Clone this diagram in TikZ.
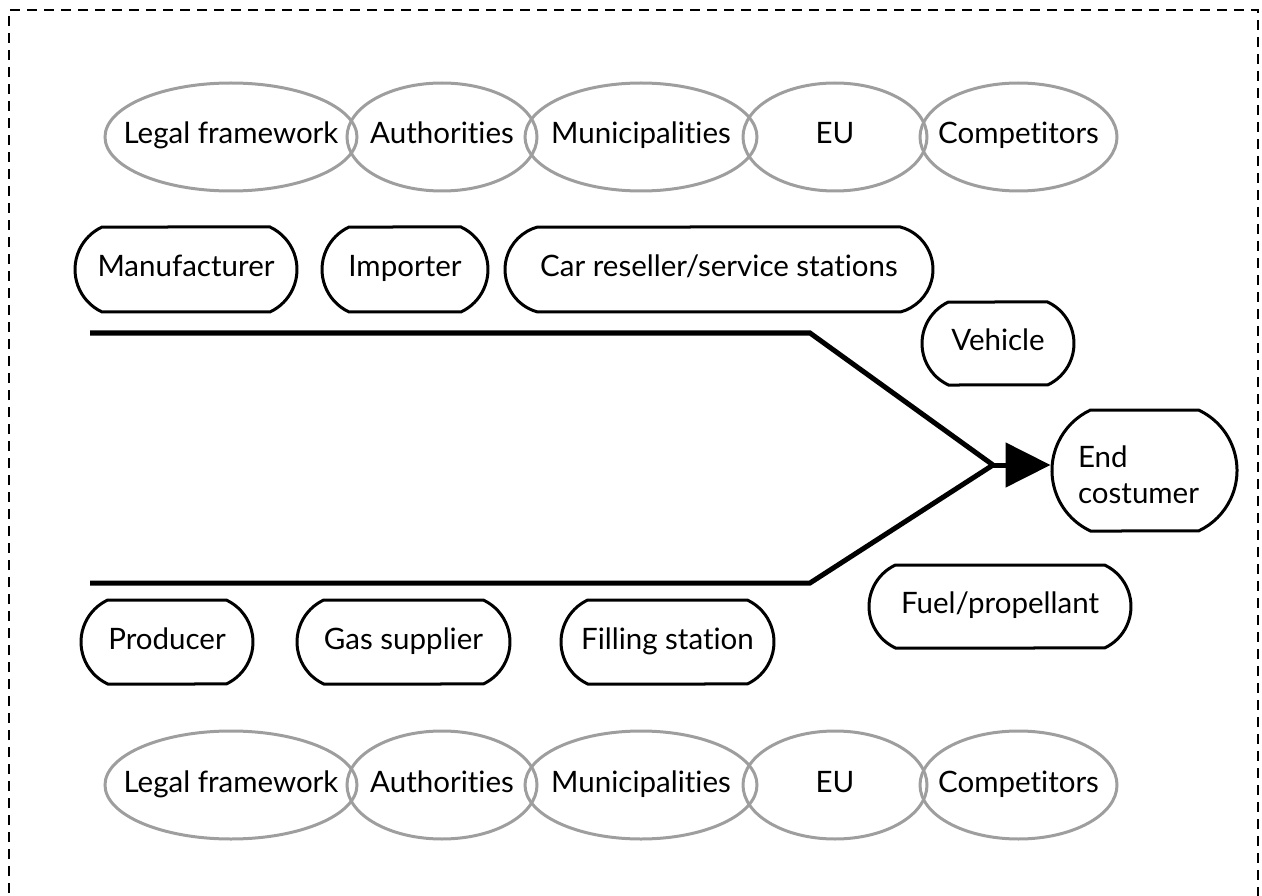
\documentclass[tikz,border=0pt]{standalone}
\usepackage{fontspec}
\setmainfont{Lato}[Ligatures={NoCommon,NoContextual}]
\usetikzlibrary{shapes.geometric,shapes.misc,arrows.meta}
\definecolor{ellgray}{HTML}{9E9E9E}
\newcommand{\zw}[1]{\makebox[0pt]{#1}}
\tikzset{
  lbl/.style={font=\fontsize{29.5}{36}\selectfont, text height=21pt, text depth=7pt},
  oval/.style={ellipse, draw=ellgray, line width=3pt, inner sep=0pt, minimum height=108pt, lbl},
  actor/.style={rounded rectangle, rounded rectangle arc length=130, draw=black, line width=3pt, inner sep=0pt, minimum height=85pt, lbl},
  flow/.style={line width=5pt, line join=miter},
  frame/.style={line width=2.5pt, dash pattern=on 10pt off 7pt}
}
\begin{document}
\begin{tikzpicture}[x=1pt,y=-1pt]
\useasboundingbox (0,0) rectangle (1262,896);
% frame
\coordinate (f1) at (9,910);
\coordinate (f2) at (9,10);
\coordinate (f3) at (1258,10);
\coordinate (f4) at (1258,910);
\draw[frame] (f1) -- (f2) -- (f3) -- (f4);
% top ellipses
\node[oval, minimum width=252pt] (tlf) at (231,137) {\zw{Legal framework}};
\node[oval, minimum width=190pt] (tau) at (442,137) {\zw{Authorities}};
\node[oval, minimum width=232pt] (tmu) at (641,137) {\zw{Municipalities}};
\node[oval, minimum width=184pt] (teu) at (835,137) {\zw{EU}};
\node[oval, minimum width=197pt] (tco) at (1018.5,137) {\zw{Competitors}};
% bottom ellipses
\node[oval, minimum width=252pt] (blf) at (231,785) {\zw{Legal framework}};
\node[oval, minimum width=190pt] (bau) at (442,785) {\zw{Authorities}};
\node[oval, minimum width=232pt] (bmu) at (641,785) {\zw{Municipalities}};
\node[oval, minimum width=184pt] (beu) at (835,785) {\zw{EU}};
\node[oval, minimum width=197pt] (bco) at (1018.5,785) {\zw{Competitors}};
% upper actors
\node[actor, minimum width=222pt] (man) at (186,269.5) {\zw{Manufacturer}};
\node[actor, minimum width=166pt] (imp) at (405,269.5) {\zw{Importer}};
\node[actor, minimum width=428pt, rounded rectangle arc length=150] (car) at (719,269.5) {\zw{Car reseller/service stations}};
\node[actor, minimum width=152pt, minimum height=83pt] (veh) at (998,343.5) {\zw{Vehicle}};
\node[actor, minimum width=185pt, minimum height=121pt, align=left, text height=72pt, text depth=7pt] (end) at (1144.5,470.5) {End\\costumer\hspace*{12pt}};
\node[actor, minimum width=262pt, minimum height=83pt] (fuel) at (1000,606.5) {\zw{Fuel/propellant}};
% lower actors
\node[actor, minimum width=172pt, minimum height=84pt] (pro) at (167,642) {\zw{Producer}};
\node[actor, minimum width=213pt, minimum height=84pt] (gas) at (403.5,642) {\zw{Gas supplier}};
\node[actor, minimum width=213pt, minimum height=84pt] (fil) at (667.5,642) {\zw{Filling station}};
% flow lines
\coordinate (ua) at (90,333);
\coordinate (ub) at (810,333);
\coordinate (la) at (90,583);
\coordinate (lb) at (810,583);
\coordinate (join) at (993,465);
\draw[flow] (ua) -- (ub) -- (join);
\draw[flow] (la) -- (lb) -- (join);
\draw[flow, -{Triangle[length=45pt,width=44pt]}] (join) -- (join -| end.west);
\end{tikzpicture}
\end{document}
